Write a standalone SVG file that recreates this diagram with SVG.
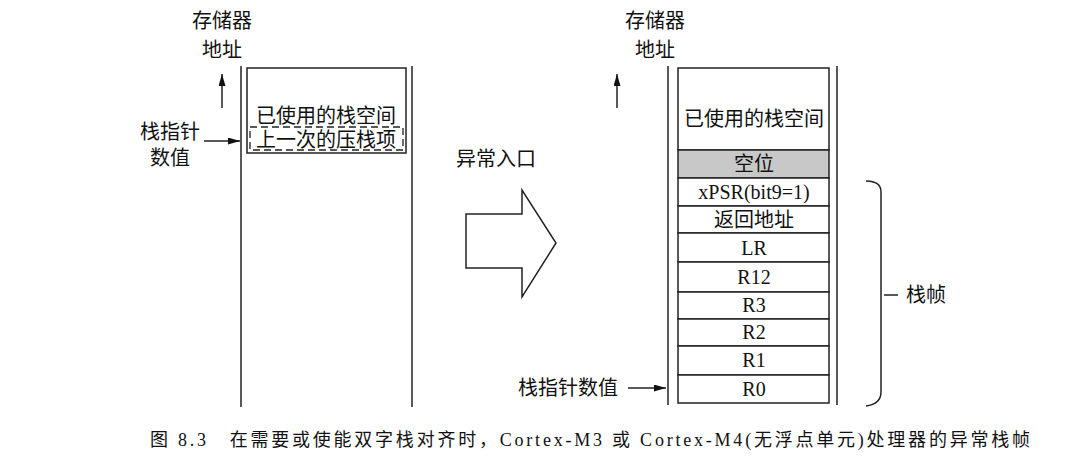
<svg xmlns="http://www.w3.org/2000/svg" width="1075" height="474" viewBox="0 0 1075 474">
<defs>
<marker id="ah" markerWidth="12" markerHeight="7" refX="12" refY="3.5" orient="auto" markerUnits="userSpaceOnUse"><path d="M0,0 L12,3.5 L0,7 Z" fill="#111"/></marker>
<style>
text{font-family:"Liberation Serif","Noto Sans CJK SC",serif;font-size:20px;fill:#111;text-anchor:middle}
.l{stroke:#222;stroke-width:1.5;fill:none}
.c{fill:#fff;stroke:#222;stroke-width:1.5}
</style>
</defs>
<rect width="1075" height="474" fill="#fff"/>
<g id="connectors">
<line class="l" x1="222" y1="108" x2="222" y2="74" marker-end="url(#ah)"/>
<line class="l" x1="204" y1="141" x2="240" y2="141" marker-end="url(#ah)"/>
<line class="l" x1="617" y1="108" x2="617" y2="74" marker-end="url(#ah)"/>
<line class="l" x1="628" y1="388" x2="666" y2="388" marker-end="url(#ah)"/>
</g>
<g id="left-stack">
<line class="l" x1="241" y1="66" x2="241" y2="407"/>
<line class="l" x1="412" y1="66" x2="412" y2="407"/>
<rect class="c" x="247" y="68" width="159" height="85"/>
<rect x="250" y="127" width="153" height="23" fill="none" stroke="#222" stroke-width="1.3" stroke-dasharray="7,4"/>
<text x="326" y="123">已使用的栈空间</text>
<text x="326" y="147">上一次的压栈项</text>
</g>
<g id="left-labels">
<text x="222" y="28">存储器</text>
<text x="222" y="57">地址</text>
<text x="170" y="139">栈指针</text>
<text x="170" y="165">数值</text>
</g>
<g id="entry-arrow">
<path class="l" d="M466,214 L522,214 L522,190 L556,243 L522,297 L522,268 L466,268 Z"/>
<text x="496" y="166">异常入口</text>
</g>
<g id="right-stack">
<line class="l" x1="668" y1="66" x2="668" y2="405"/>
<line class="l" x1="837" y1="66" x2="837" y2="405"/>
<rect class="c" x="678" y="68" width="151" height="82"/>
<rect x="678" y="150" width="151" height="28" fill="#c8c8c8" stroke="#222" stroke-width="1.5"/>
<rect class="c" x="678" y="178" width="151" height="28"/>
<rect class="c" x="678" y="206" width="151" height="27"/>
<rect class="c" x="678" y="233" width="151" height="29"/>
<rect class="c" x="678" y="262" width="151" height="30"/>
<rect class="c" x="678" y="292" width="151" height="27"/>
<rect class="c" x="678" y="319" width="151" height="27"/>
<rect class="c" x="678" y="346" width="151" height="29"/>
<rect class="c" x="678" y="375" width="151" height="28"/>
<text x="754" y="126">已使用的栈空间</text>
<text x="754" y="171">空位</text>
<text x="754" y="199">xPSR(bit9=1)</text>
<text x="754" y="227">返回地址</text>
<text x="754" y="255">LR</text>
<text x="754" y="284">R12</text>
<text x="754" y="312">R3</text>
<text x="754" y="339">R2</text>
<text x="754" y="367">R1</text>
<text x="754" y="396">R0</text>
</g>
<g id="right-labels">
<text x="655" y="28">存储器</text>
<text x="655" y="57">地址</text>
<text x="568" y="395">栈指针数值</text>
</g>
<g id="brace">
<path class="l" d="M866,181 Q881,181 881,192 L881,392 Q881,404 866,406"/>
<line class="l" x1="884" y1="295" x2="898" y2="295"/>
<text x="926" y="302">栈帧</text>
</g>
<text x="150" y="446" style="font-size:18px;text-anchor:start" textLength="880" lengthAdjust="spacing">图 8.3　在需要或使能双字栈对齐时，Cortex-M3 或 Cortex-M4(无浮点单元)处理器的异常栈帧</text>
</svg>
